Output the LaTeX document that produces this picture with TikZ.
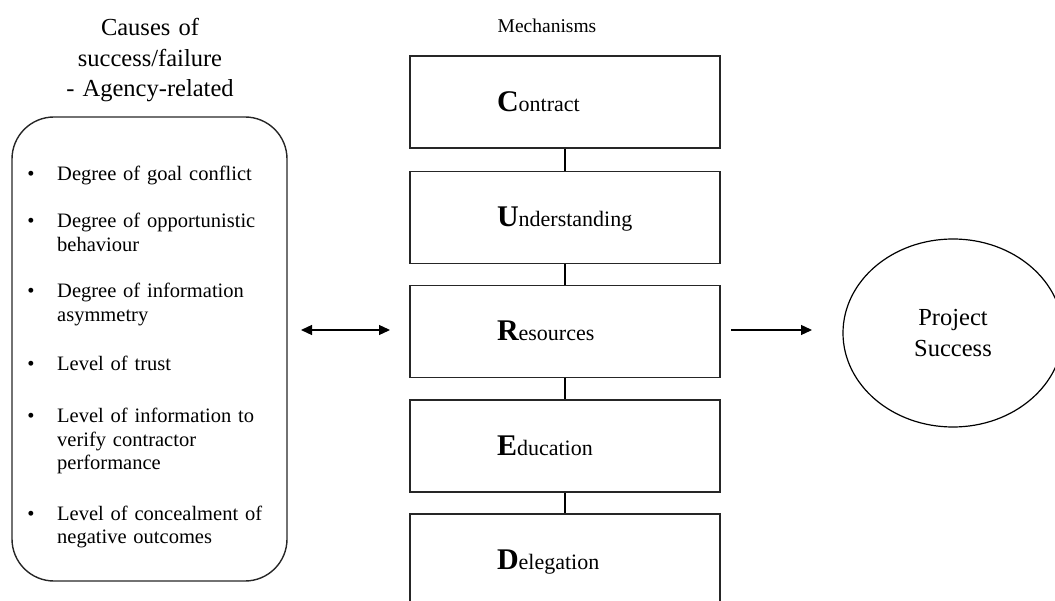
\documentclass[tikz,border=0pt]{standalone}
\usepackage{fontspec}
\setmainfont{Liberation Serif}
\usetikzlibrary{arrows.meta,shapes.geometric}
\tikzset{
  mech/.style={draw=black!85, line width=1.4pt, rectangle, minimum width=310pt, minimum height=92pt, inner xsep=87pt, text width=136pt, text height=20pt, text depth=1pt, align=left, font=\fontsize{22}{26}\selectfont},
  cause/.style={anchor=base west, text width=230pt, align=left, inner sep=0pt, font=\fontsize{20.5}{23.5}\selectfont},
  dot/.style={anchor=base, inner sep=0pt, font=\fontsize{20.5}{23.5}\selectfont},
  head/.style={anchor=base, text width=300pt, align=center, inner sep=0pt, font=\fontsize{24.5}{30.5}\selectfont},
  tip/.style={-{Triangle[length=11pt,width=10pt]}, line width=1.3pt},
  dtip/.style={{Triangle[length=11pt,width=10pt]}-{Triangle[length=11pt,width=10pt]}, line width=1.3pt},
}
\newcommand{\Ini}[1]{{\fontsize{30}{30}\selectfont\bfseries #1}}
\begin{document}
\begin{tikzpicture}[x=1pt,y=-1pt]
\useasboundingbox (0,0) rectangle (1055,601);
\node[head] (chead) at (150,36) {Causes of\\success/failure\\- Agency-related};
\node[anchor=base, inner sep=0pt, font=\fontsize{19.5}{22}\selectfont] (mhead) at (547,33) {Mechanisms};
\node[draw=black!85, line width=1.4pt, rounded corners=42pt, minimum width=275pt, minimum height=464pt] (causes) at (149.5,349) {};
\node[dot] (d1) at (31,181) {\textbullet};
\node[cause] (c1) at (57,181) {Degree of goal conflict};
\node[dot] (d2) at (31,228) {\textbullet};
\node[cause] (c2) at (57,228) {Degree of opportunistic\\behaviour};
\node[dot] (d3) at (31,298) {\textbullet};
\node[cause] (c3) at (57,298) {Degree of information\\asymmetry};
\node[dot] (d4) at (31,371) {\textbullet};
\node[cause] (c4) at (57,371) {Level of trust};
\node[dot] (d5) at (31,423) {\textbullet};
\node[cause] (c5) at (57,423) {Level of information to\\verify contractor\\performance};
\node[dot] (d6) at (31,520) {\textbullet};
\node[cause] (c6) at (57,520) {Level of concealment of\\negative outcomes};
\node[mech] (con) at (565,102) {\Ini{C}ontract};
\node[mech] (und) at (565,217.5) {\Ini{U}nderstanding};
\node[mech] (res) at (565,331.5) {\Ini{R}esources};
\node[mech] (edu) at (565,446) {\Ini{E}ducation};
\node[mech] (del) at (565,560) {\Ini{D}elegation};
\draw[line width=1.4pt](con) -- (und);
\draw[line width=1.4pt](und) -- (res);
\draw[line width=1.4pt](res) -- (edu);
\draw[line width=1.4pt](edu) -- (del);
\node[draw, ellipse, line width=1.2pt, minimum width=220pt, minimum height=188pt, align=center, font=\fontsize{24.5}{30.5}\selectfont] (succ) at (953,333) {Project\\Success};
\coordinate (la) at (301,330);
\coordinate (lb) at (390,330);
\coordinate (ra) at (731,330);
\coordinate (rb) at (812,330);
\draw[dtip](la) -- (lb);
\draw[tip](ra) -- (rb);
\end{tikzpicture}
\end{document}
